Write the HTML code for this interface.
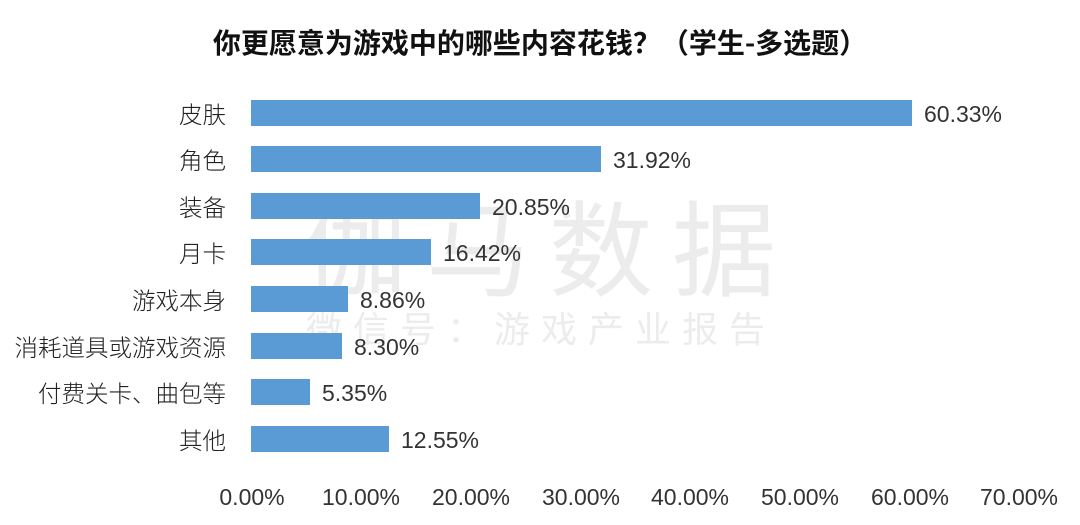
<!DOCTYPE html>
<html><head><meta charset="utf-8"><style>
body{margin:0;width:1080px;height:525px;background:#fff;position:relative;overflow:hidden;font-family:"Liberation Sans","Noto Sans CJK SC",sans-serif;color:#222}
.t{position:absolute;white-space:nowrap}
.bar{position:absolute;left:251px;height:26px;background:#5b9bd5}
.lab{position:absolute;right:854px;font-size:23.5px;line-height:26px;text-align:right;white-space:nowrap;font-family:"Noto Sans CJK SC",sans-serif;font-weight:300}
.val{position:absolute;font-size:23px;line-height:26px;color:#333;margin-top:1px}
.tick{position:absolute;top:484px;font-size:23px;width:120px;margin-left:-60px;text-align:center;color:#333}
.wm{position:absolute;color:#ececec;font-family:"Noto Sans CJK SC",sans-serif;white-space:nowrap}
</style></head><body>
<div class="wm" style="left:303px;top:178px;font-size:104px;letter-spacing:19px;line-height:130px">伽马数据</div>
<div class="wm" style="left:306px;top:304px;font-size:36px;letter-spacing:11px;line-height:46px">微信号：游戏产业报告</div>
<div class="t" style="left:0;width:1080px;text-align:center;top:22px;font-size:28px;font-weight:bold;font-family:'Noto Sans CJK SC',sans-serif;color:#111;line-height:40px">你更愿意为游戏中的哪些内容花钱？（学生-多选题）</div>

<div class="lab" style="top:100px">皮肤</div><div class="bar" style="top:100px;width:661px"></div><div class="val" style="top:100px;left:924px">60.33%</div>
<div class="lab" style="top:146px">角色</div><div class="bar" style="top:146px;width:350px"></div><div class="val" style="top:146px;left:613px">31.92%</div>
<div class="lab" style="top:193px">装备</div><div class="bar" style="top:193px;width:229px"></div><div class="val" style="top:193px;left:492px">20.85%</div>
<div class="lab" style="top:239px">月卡</div><div class="bar" style="top:239px;width:180px"></div><div class="val" style="top:239px;left:443px">16.42%</div>
<div class="lab" style="top:286px">游戏本身</div><div class="bar" style="top:286px;width:97px"></div><div class="val" style="top:286px;left:360px">8.86%</div>
<div class="lab" style="top:333px">消耗道具或游戏资源</div><div class="bar" style="top:333px;width:91px"></div><div class="val" style="top:333px;left:354px">8.30%</div>
<div class="lab" style="top:379px">付费关卡、曲包等</div><div class="bar" style="top:379px;width:59px"></div><div class="val" style="top:379px;left:322px">5.35%</div>
<div class="lab" style="top:426px">其他</div><div class="bar" style="top:426px;width:138px"></div><div class="val" style="top:426px;left:401px">12.55%</div>

<div class="tick" style="left:252px">0.00%</div>
<div class="tick" style="left:361px">10.00%</div>
<div class="tick" style="left:471px">20.00%</div>
<div class="tick" style="left:581px">30.00%</div>
<div class="tick" style="left:690px">40.00%</div>
<div class="tick" style="left:800px">50.00%</div>
<div class="tick" style="left:910px">60.00%</div>
<div class="tick" style="left:1019px">70.00%</div>
</body></html>
